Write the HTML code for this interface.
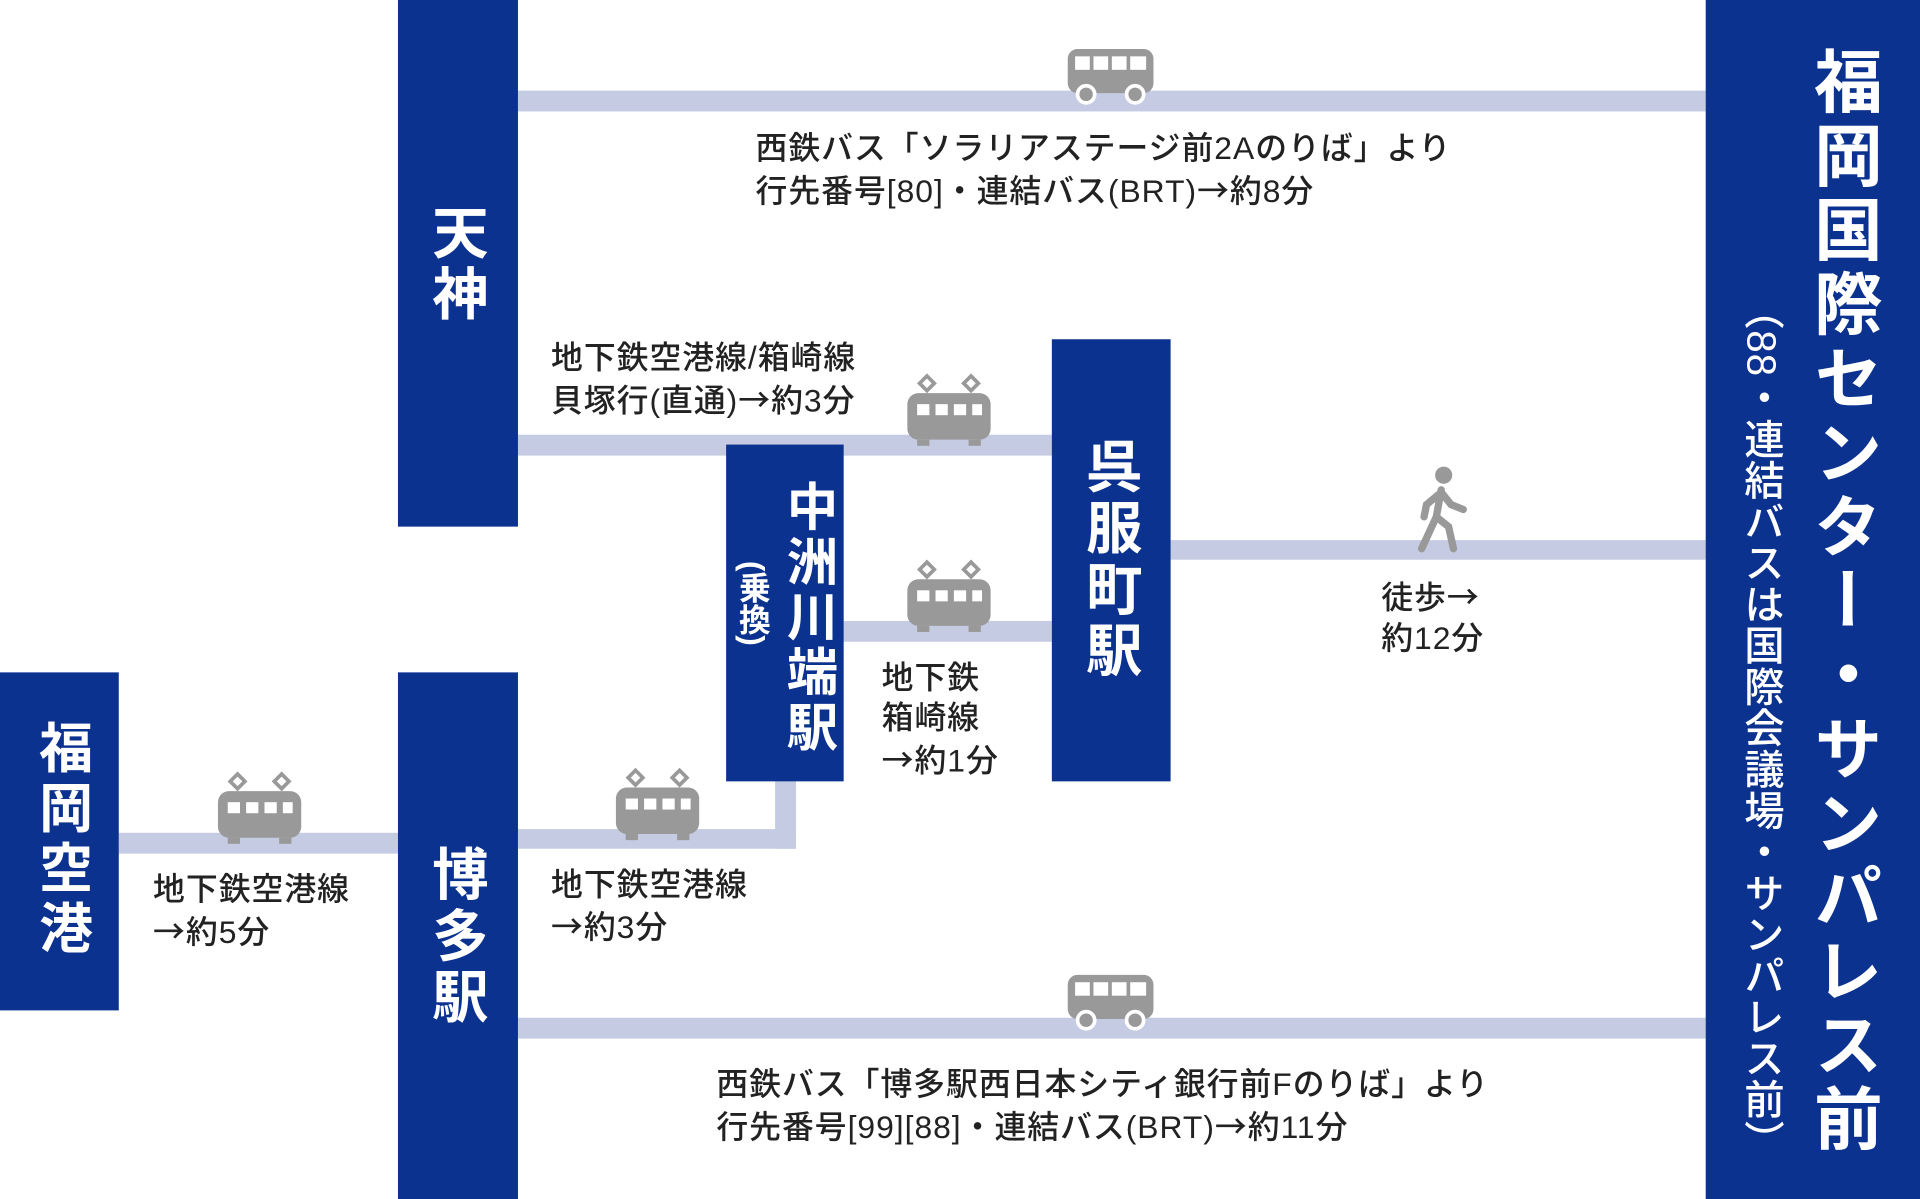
<!DOCTYPE html>
<html><head><meta charset="utf-8"><style>
html,body{margin:0;padding:0;background:#fff;overflow:hidden}
#w{position:relative;width:1568px;height:979px;transform:scale(1.22449,1.22472);transform-origin:0 0;font-family:"Liberation Sans","Noto Sans CJK JP",sans-serif}
.b{position:absolute;background:#0c3290}
.l{position:absolute;background:#c4cbe3}
.v{position:absolute;writing-mode:vertical-rl;color:#fff;font-weight:bold;line-height:1}
.t{position:absolute;font-size:26px;line-height:33px;color:#222;font-weight:500;white-space:nowrap;letter-spacing:0.8px}
.a{font-family:"Noto Sans CJK JP",sans-serif}
svg{position:absolute}
</style></head><body><div id="w">
<div class="l" style="left:423px;top:74px;width:970px;height:17px"></div>
<div class="l" style="left:423px;top:355px;width:436px;height:17px"></div>
<div class="l" style="left:689px;top:507px;width:170px;height:17px"></div>
<div class="l" style="left:956px;top:441px;width:437px;height:16px"></div>
<div class="l" style="left:97px;top:680px;width:228px;height:17px"></div>
<div class="l" style="left:423px;top:677px;width:227px;height:16px"></div>
<div class="l" style="left:633px;top:638px;width:17px;height:55px"></div>
<div class="l" style="left:423px;top:831px;width:970px;height:17px"></div>
<div class="b" style="left:325px;top:0;width:98px;height:430px"></div>
<div class="b" style="left:325px;top:549px;width:98px;height:430px"></div>
<div class="b" style="left:0;top:549px;width:97px;height:276px"></div>
<div class="b" style="left:593px;top:363px;width:96px;height:275px"></div>
<div class="b" style="left:859px;top:277px;width:97px;height:361px"></div>
<div class="b" style="left:1393px;top:0;width:175px;height:979px"></div>
<div class="v" style="left:350px;top:166px;font-size:46px;letter-spacing:4px">天神</div>
<div class="v" style="left:350px;top:690px;font-size:46px;letter-spacing:4px">博多駅</div>
<div class="v" style="left:27px;top:588px;font-size:44px;letter-spacing:5px">福岡空港</div>
<div class="v" style="left:639px;top:392px;font-size:42px;letter-spacing:3px">中洲川端駅</div>
<div class="v" style="left:602px;top:458px;font-size:26px">(乗換)</div>
<div class="v" style="left:884px;top:357px;font-size:46px;letter-spacing:4px">呉服町駅</div>
<div class="v" style="left:1477px;top:38px;font-size:56px;letter-spacing:4.5px">福岡国際センター・サンパレス前</div>
<div class="v" style="left:1422px;top:236px;font-size:33px;font-weight:500;letter-spacing:0.7px">（88・連結バスは国際会議場・サンパレス前）</div>
<div class="t" style="left:617px;top:105px">西鉄バス「ソラリアステージ前2Aのりば」より<br>行先番号[80]・連結バス(BRT)<span class="a">→</span>約8分</div>
<div class="t" style="left:450px;top:276px">地下鉄空港線/箱崎線<br>貝塚行(直通)<span class="a">→</span>約3分</div>
<div class="t" style="left:720px;top:537px">地下鉄<br>箱崎線<br><span class="a">→</span>約1分</div>
<div class="t" style="left:1128px;top:470px">徒歩<span class="a">→</span><br>約12分</div>
<div class="t" style="left:125px;top:710px">地下鉄空港線<br><span class="a">→</span>約5分</div>
<div class="t" style="left:450px;top:706px">地下鉄空港線<br><span class="a">→</span>約3分</div>
<div class="t" style="left:585px;top:869px">西鉄バス「博多駅西日本シティ銀行前Fのりば」より<br>行先番号[99][88]・連結バス(BRT)<span class="a">→</span>約11分</div>
<svg width="1568" height="979" style="left:0;top:0">
<defs>
<g id="bus"><rect x="-35" y="-22" width="70" height="36" rx="8" fill="#999"/><rect x="-29" y="-16" width="12" height="11" fill="#fff"/><rect x="-14" y="-16" width="12" height="11" fill="#fff"/><rect x="1" y="-16" width="12" height="11" fill="#fff"/><rect x="16" y="-16" width="13" height="11" fill="#fff"/><circle cx="-20" cy="15" r="7" fill="#999" stroke="#fff" stroke-width="3"/><circle cx="20" cy="15" r="7" fill="#999" stroke="#fff" stroke-width="3"/></g>
<g id="tr"><path d="M-24,-22 l6,-6 6,6 -6,6z M12,-22 l6,-6 6,6 -6,6z" fill="none" stroke="#999" stroke-width="3"/><rect x="-34" y="-14" width="68" height="38" rx="9" fill="#999"/><rect x="-26" y="-5" width="10" height="9" fill="#fff"/><rect x="-11" y="-5" width="10" height="9" fill="#fff"/><rect x="4" y="-5" width="10" height="9" fill="#fff"/><rect x="19" y="-5" width="8" height="9" fill="#fff"/><rect x="-26" y="24" width="10" height="5" fill="#999"/><rect x="16" y="24" width="10" height="5" fill="#999"/></g>
</defs>
<use href="#bus" x="907" y="62"/>
<use href="#bus" x="907" y="818"/>
<use href="#tr" x="775" y="335"/>
<use href="#tr" x="775" y="487"/>
<use href="#tr" x="537" y="657"/>
<use href="#tr" x="212" y="660"/>
<g fill="#999" stroke="#999" stroke-linecap="round" stroke-width="6">
<circle cx="1179" cy="388" r="7" stroke="none"/>
<path d="M1177,400 l-4,22 M1173,422 l-12,26 M1173,422 l10,8 4,18 M1177,402 l-12,10 -2,10 M1177,402 l8,10 10,4" fill="none"/>
</g>
</svg>
</div></body></html>
